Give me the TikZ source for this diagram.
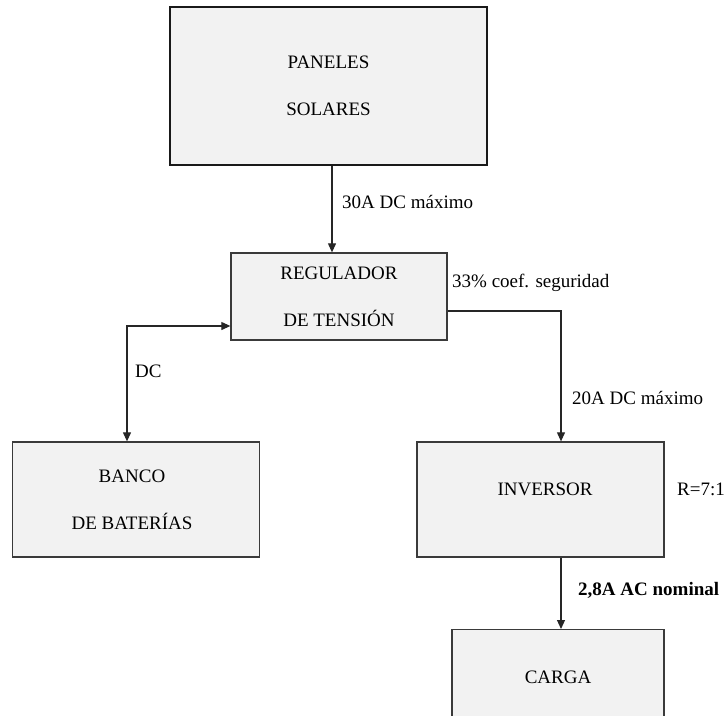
\documentclass[tikz,border=0pt]{standalone}
\usepackage{fontspec}
\setmainfont{Liberation Serif}
\usetikzlibrary{arrows.meta,calc}
\definecolor{boxfill}{HTML}{F2F2F2}
\definecolor{boxline}{HTML}{3A3A3A}
\definecolor{wire}{HTML}{262626}
\begin{document}
\begin{tikzpicture}[x=1pt,y=-1pt,
  blockbox/.style={draw=boxline,fill=boxfill,line width=1.3pt,align=center,inner sep=0pt,
    font=\fontsize{19}{47}\selectfont},
  wirelab/.style={anchor=west,inner sep=0pt,font=\fontsize{19}{23}\selectfont},
  conn/.style={draw=wire,line width=1.1pt,-{Triangle[length=9pt,width=8pt]}},
  conn2/.style={draw=wire,line width=1.1pt,{Triangle[length=9pt,width=8pt]}-{Triangle[length=9pt,width=8pt]}}]
\useasboundingbox (0,0) rectangle (725,715);
\clip (0,0) rectangle (725,715);

\node[blockbox,draw=black!90,line width=1.8pt,minimum width=317pt,minimum height=158pt] (panel) at (328.5,86) {PANELES\\SOLARES};
\node[blockbox,minimum width=216pt,minimum height=87pt] (reg) at (339,296.5) {REGULADOR\\DE TENSIÓN};
\node[blockbox,minimum width=247pt,minimum height=115pt] (banco) at (136,499.5) {};
\node at (132,499.5) [align=center,font=\fontsize{19}{47}\selectfont,inner sep=0pt] (bancotxt) {BANCO\\DE BATERÍAS};
\node[blockbox,minimum width=247pt,minimum height=115pt] (inv) at (540.5,499.5) {};
\node at (545,489) [font=\fontsize{19}{23}\selectfont,inner sep=0pt] (invtxt) {INVERSOR};
\node[blockbox,minimum width=212pt,minimum height=120pt,anchor=north] (carga) at (558,629) {};
\node at (558,677) [font=\fontsize{19}{23}\selectfont,inner sep=0pt] (cargatxt) {CARGA};

\coordinate (px) at (332,0);
\coordinate (dcx) at (127,0);
\coordinate (invx) at (561,0);

\draw[conn] (panel.south -| px) -- (reg.north -| px);
\draw[conn2] ($(reg.west)+(0,29.5)$) -| (banco.north -| dcx);
\draw[conn] ($(reg.east)+(0,14.5)$) -| (inv.north -| invx);
\draw[conn] (inv.south -| invx) -- (carga.north -| invx);

\node[wirelab] (l1) at (342,202) {30A DC máximo};
\node[wirelab] (l2) at (135,371) {DC};
\node[wirelab] (l3) at (452,283) {33\% coef. seguridad};
\node[wirelab] (l4) at (572,398) {20A DC máximo};
\node[wirelab] (l5) at (677,489) {R=7:1};
\node[wirelab,font=\fontsize{19}{23}\selectfont\bfseries] (l6) at (578,590) {2,8A AC nominal};
\end{tikzpicture}
\end{document}
